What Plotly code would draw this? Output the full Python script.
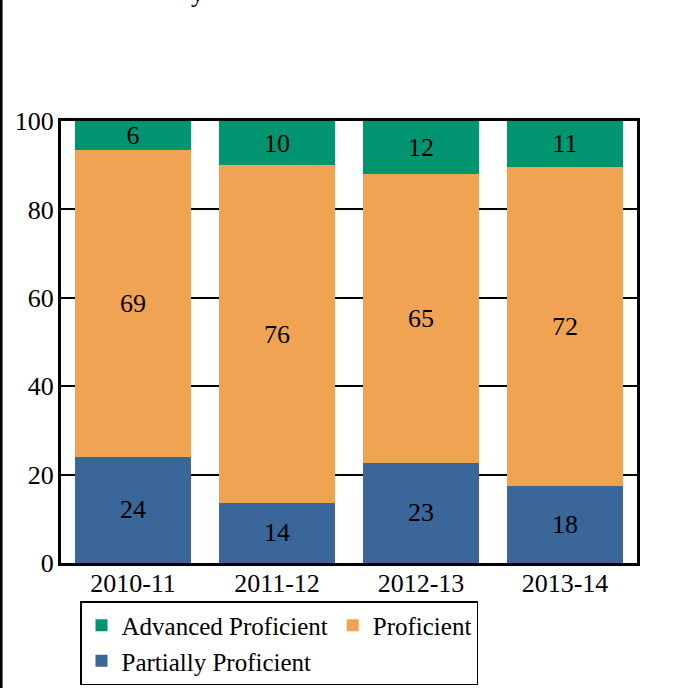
import plotly.graph_objs as go

years = ["2010-11", "2011-12", "2012-13", "2013-14"]
partially = [24.0, 13.6, 22.7, 17.5]
proficient = [69.4, 76.4, 65.4, 72.2]
advanced = [6.6, 10.0, 11.9, 10.6]

partially_lbl = [24, 14, 23, 18]
proficient_lbl = [69, 76, 65, 72]
advanced_lbl = [6, 10, 12, 11]

serif = "Times New Roman"

fig = go.Figure()

fig.add_trace(go.Bar(x=years, y=partially, name="Partially Proficient",
    marker_color="#3b6699", text=partially_lbl))
fig.add_trace(go.Bar(x=years, y=proficient, name="Proficient",
    marker_color="#f0a352", text=proficient_lbl))
fig.add_trace(go.Bar(x=years, y=advanced, name="Advanced Proficient",
    marker_color="#009471", text=advanced_lbl))

fig.update_traces(textposition="inside", insidetextanchor="middle",
    constraintext="none", textangle=0,
    textfont=dict(family=serif, size=26, color="black"),
    marker_line_width=0, hoverinfo="skip")

fig.update_layout(
    barmode="stack",
    bargap=0.19,
    width=694,
    height=688,
    plot_bgcolor="white",
    paper_bgcolor="white",
    font=dict(family=serif, size=26, color="black"),
    showlegend=True,
    margin=dict(l=61, r=57, t=121, b=125, autoexpand=False),
    legend=dict(
        orientation="h",
        traceorder="reversed",
        x=0.033, xanchor="left",
        y=-0.086, yanchor="top",
        bordercolor="black", borderwidth=1.5,
        font=dict(family=serif, size=25, color="black"),
    ),
)

fig.update_yaxes(range=[0, 100], tickvals=[0, 20, 40, 60, 80, 100],
    showgrid=True, gridcolor="black", gridwidth=2,
    showline=True, linecolor="black", linewidth=3, mirror=True,
    zeroline=False, ticks="", ticklen=0, ticklabelstandoff=-1)
fig.update_xaxes(type="category", showline=True, linecolor="black", linewidth=3,
    mirror=True, ticks="", ticklen=0, ticklabelstandoff=-5)

# page border on the left
fig.add_shape(type="line", xref="paper", yref="paper",
    x0=-0.104, x1=-0.104, y0=-0.3, y1=1.3,
    line=dict(color="black", width=3))

# tail of the cut-off title
fig.add_annotation(text="y", xref="paper", yref="paper",
    x=(197 - 61) / 576, y=1 + (121 - 10) / 442, xanchor="center", yanchor="bottom",
    showarrow=False, font=dict(family=serif, size=26, color="black"))

fig.write_html("out.html", config={"displayModeBar": False},
    post_script="document.body.style.margin='0';")
